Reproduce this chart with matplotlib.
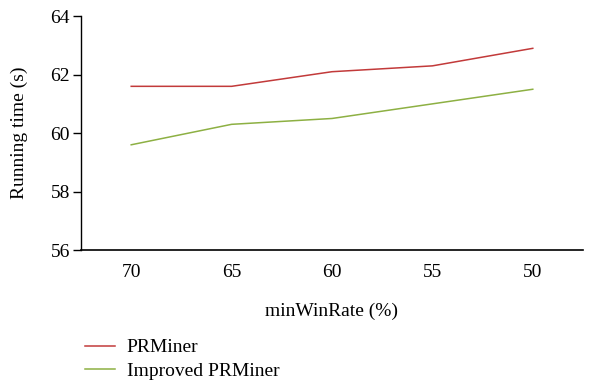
import matplotlib
matplotlib.use("Agg")
import matplotlib.pyplot as plt
from matplotlib.lines import Line2D

categories = ["70", "65", "60", "55", "50"]
prminer = [61.6, 61.6, 62.1, 62.3, 62.9]
improved = [59.6, 60.3, 60.5, 61.0, 61.5]
yticks = [56, 58, 60, 62, 64]

plt.rcParams['font.family'] = ['Liberation Serif', 'DejaVu Serif']
FS = 14

fig = plt.figure(figsize=(5.97, 3.85), dpi=100)
ax = fig.add_axes([0.1357, 0.3506, 0.8408, 0.6074])
x = list(range(len(categories)))
red = "#c23a3a"
green = "#8db043"
ax.plot(x, prminer, color=red, lw=1.1)
ax.plot(x, improved, color=green, lw=1.1)
ax.set_xlim(-0.5, 4.5)
ax.set_ylim(56, 64)
ax.set_yticks(yticks)
ax.set_xticks(x)
ax.set_xticklabels(categories)
ax.tick_params(axis='y', length=6, width=1, labelsize=FS, pad=2)
ax.tick_params(axis='x', length=0, labelsize=FS, pad=10)
ax.spines['top'].set_visible(False)
ax.spines['right'].set_visible(False)
ax.spines['left'].set_linewidth(1.0)
ax.spines['bottom'].set_linewidth(1.2)
ax.set_ylabel("Running time (s)", fontsize=FS, labelpad=16)
ax.set_xlabel("minWinRate (%)", fontsize=FS, labelpad=16)

handles = [Line2D([], [], color=red, lw=1.1), Line2D([], [], color=green, lw=1.1)]
fig.legend(handles, ["PRMiner", "Improved PRMiner"], loc='upper left',
           bbox_to_anchor=(0.142, 0.12), bbox_transform=fig.transFigure,
           frameon=False, fontsize=FS, handlelength=1.55, handletextpad=0.6,
           labelspacing=0.3, borderaxespad=0, borderpad=0)
fig.savefig("out.png", dpi=100)
